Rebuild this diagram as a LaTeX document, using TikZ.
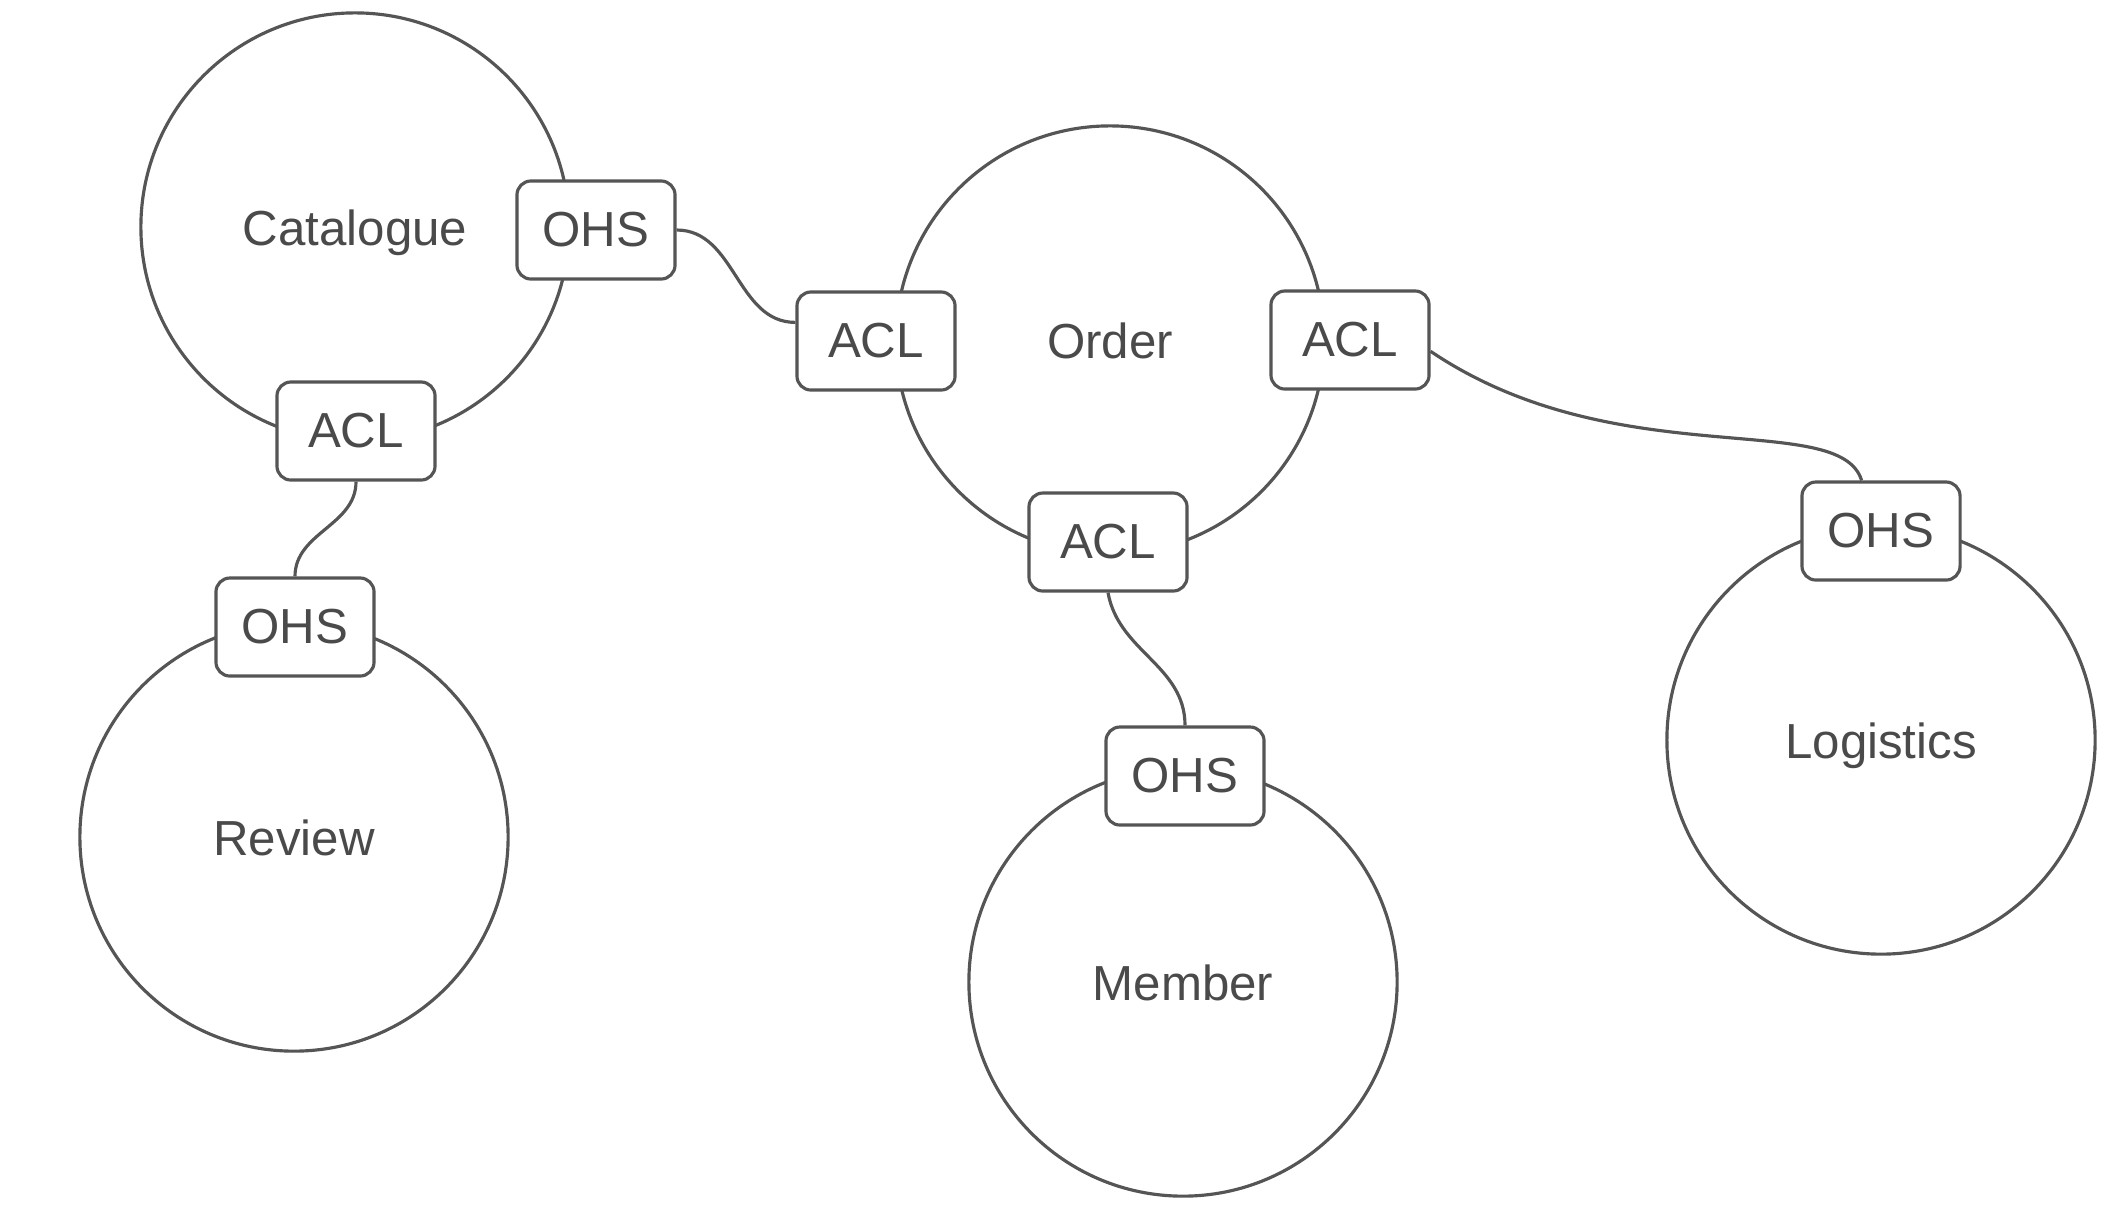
\documentclass[tikz,border=0pt]{standalone}
\usepackage{fontspec}
\setmainfont{Liberation Sans}

\definecolor{linegrey}{HTML}{555555}
\definecolor{textgrey}{HTML}{4A4A4A}

\begin{document}
\begin{tikzpicture}[
					x=0.01cm, y=0.01cm,
					context/.style={circle, draw=linegrey, line width=0.9pt, minimum size=4.28cm, text=textgrey, text height=10.6pt, text depth=0pt, font=\fontsize{14}{17}\selectfont},
					mapbox/.style={rectangle, rounded corners=1.4mm, draw=linegrey, line width=0.9pt, fill=white, minimum width=1.58cm, minimum height=0.98cm, text=textgrey, font=\fontsize{14}{17}\selectfont},
					link/.style={draw=linegrey, line width=0.9pt}
					]
					\useasboundingbox (0,0) rectangle (2116,-1208);
					% bounded contexts
					\node[context] (Catalogue) at (355,-227) {Catalogue};
					\node[context] (Order) at (1110,-340) {Order};
					\node[context] (Review) at (294,-837) {Review};
					\node[context] (Member) at (1183,-982) {Member};
					\node[context] (Logistics) at (1881,-740) {Logistics};
					% OHS / ACL boxes
					\node[mapbox] (CatOHS) at (596,-230) {OHS};
					\node[mapbox] (CatACL) at (356,-431) {ACL};
					\node[mapbox] (RevOHS) at (295,-627) {OHS};
					\node[mapbox] (OrdACLw) at (876,-341) {ACL};
					\node[mapbox] (OrdACLe) at (1350,-340) {ACL};
					\node[mapbox] (OrdACLs) at (1108,-542) {ACL};
					\node[mapbox] (MemOHS) at (1185,-776) {OHS};
					\node[mapbox] (LogOHS) at (1881,-531) {OHS};
					% relations
					\draw[link] (CatOHS.east) to[out=0, in=180] (OrdACLw.167);
					\draw[link] (CatACL.south) to[out=-90, in=90] (RevOHS.north);
					\draw[link] (OrdACLs.south) to[out=-80, in=90] (MemOHS.north);
					\draw[link] (OrdACLe.-8) .. controls +(185,-125) and +(-22,72) .. (LogOHS.111);
				\end{tikzpicture}
\end{document}
